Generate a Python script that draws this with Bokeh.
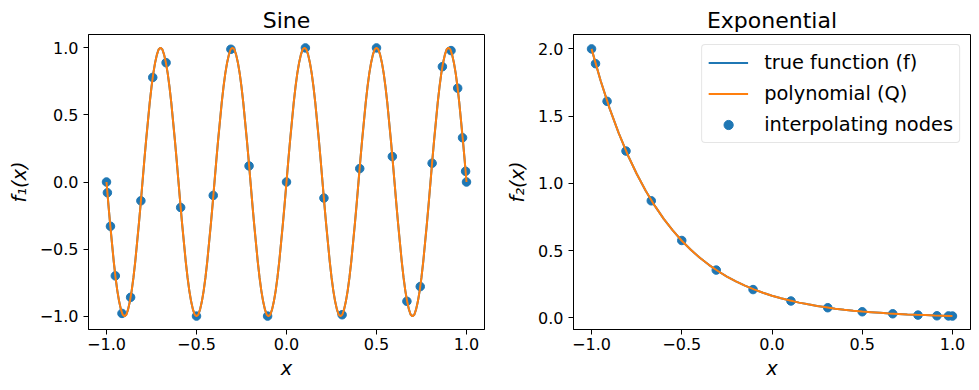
import numpy as np
from bokeh.plotting import figure
from bokeh.layouts import row
from bokeh.models import FixedTicker, Legend, LegendItem, Range1d
from bokeh.embed import file_html
from bokeh.resources import INLINE

# ---------------- data ----------------
# Sine panel: curve sampled every 0.01 on [-1, 1]
sine_x = np.linspace(-1.0, 1.0, 201)
sine_true = [
    0, -0.16, -0.31, -0.45, -0.59, -0.71, -0.81, -0.89, -0.95, -0.99, -1.0, -0.99, -0.95, -0.89, -0.81, -0.71, -0.59, -0.45, -0.31, -0.16,
    0, 0.16, 0.31, 0.45, 0.59, 0.71, 0.81, 0.89, 0.95, 0.99, 1.0, 0.99, 0.95, 0.89, 0.81, 0.71, 0.59, 0.45, 0.31, 0.16,
    0, -0.16, -0.31, -0.45, -0.59, -0.71, -0.81, -0.89, -0.95, -0.99, -1.0, -0.99, -0.95, -0.89, -0.81, -0.71, -0.59, -0.45, -0.31, -0.16,
    0, 0.16, 0.31, 0.45, 0.59, 0.71, 0.81, 0.89, 0.95, 0.99, 1.0, 0.99, 0.95, 0.89, 0.81, 0.71, 0.59, 0.45, 0.31, 0.16,
    0, -0.16, -0.31, -0.45, -0.59, -0.71, -0.81, -0.89, -0.95, -0.99, -1.0, -0.99, -0.95, -0.89, -0.81, -0.71, -0.59, -0.45, -0.31, -0.16,
    0, 0.16, 0.31, 0.45, 0.59, 0.71, 0.81, 0.89, 0.95, 0.99, 1.0, 0.99, 0.95, 0.89, 0.81, 0.71, 0.59, 0.45, 0.31, 0.16,
    0, -0.16, -0.31, -0.45, -0.59, -0.71, -0.81, -0.89, -0.95, -0.99, -1.0, -0.99, -0.95, -0.89, -0.81, -0.71, -0.59, -0.45, -0.31, -0.16,
    0, 0.16, 0.31, 0.45, 0.59, 0.71, 0.81, 0.89, 0.95, 0.99, 1.0, 0.99, 0.95, 0.89, 0.81, 0.71, 0.59, 0.45, 0.31, 0.16,
    0, -0.16, -0.31, -0.45, -0.59, -0.71, -0.81, -0.89, -0.95, -0.99, -1.0, -0.99, -0.95, -0.89, -0.81, -0.71, -0.59, -0.45, -0.31, -0.16,
    0, 0.16, 0.31, 0.45, 0.59, 0.71, 0.81, 0.89, 0.95, 0.99, 1.0, 0.99, 0.95, 0.89, 0.81, 0.71, 0.59, 0.45, 0.31, 0.16,
    0,
]
# the interpolating polynomial coincides with the true function at this scale
sine_poly = list(sine_true)

sine_nodes_x = [-1.0, -0.995, -0.978, -0.951, -0.914, -0.866, -0.809, -0.743, -0.669, -0.588, -0.5,
                -0.407, -0.309, -0.208, -0.105, 0.0, 0.105, 0.208, 0.309, 0.407, 0.5,
                0.588, 0.669, 0.743, 0.809, 0.866, 0.914, 0.951, 0.978, 0.995, 1.0]
sine_nodes_y = [0.0, -0.08, -0.33, -0.70, -0.98, -0.86, -0.14, 0.78, 0.89, -0.19, -1.0,
                -0.10, 0.99, 0.12, -1.0, 0.0, 1.0, -0.12, -0.99, 0.10, 1.0,
                0.19, -0.89, -0.78, 0.14, 0.86, 0.98, 0.70, 0.33, 0.08, 0.0]

# Exponential panel: curve sampled every 0.05 on [-1, 1]
exp_x = np.linspace(-1.0, 1.0, 41)
exp_true = [2.000, 1.765, 1.558, 1.375, 1.213, 1.071, 0.945, 0.834, 0.736, 0.650,
            0.573, 0.506, 0.446, 0.394, 0.348, 0.307, 0.271, 0.239, 0.211, 0.186,
            0.164, 0.145, 0.128, 0.113, 0.100, 0.088, 0.078, 0.068, 0.060, 0.053,
            0.047, 0.042, 0.037, 0.032, 0.029, 0.025, 0.022, 0.020, 0.017, 0.015,
            0.013]
exp_poly = list(exp_true)

exp_nodes_x = [-1.0, -0.978, -0.914, -0.809, -0.669, -0.5, -0.309, -0.105,
               0.105, 0.309, 0.5, 0.669, 0.809, 0.914, 0.978, 1.0]
exp_nodes_y = [2.0, 1.89, 1.61, 1.24, 0.87, 0.575, 0.355, 0.21,
               0.125, 0.075, 0.045, 0.03, 0.02, 0.015, 0.014, 0.013]

x_ticks = [-1.0, -0.5, 0.0, 0.5, 1.0]
sine_y_ticks = [-1.0, -0.5, 0.0, 0.5, 1.0]
exp_y_ticks = [0.0, 0.5, 1.0, 1.5, 2.0]

BLUE = "#1f77b4"
ORANGE = "#ff7f0e"
FONT = "DejaVu Sans"


def fmt(v):
    s = f"{v:.1f}"
    return s.replace("-", "\u2212")


def make_fig(title, ylabel, yr, yticks, width, bl, br):
    p = figure(width=width, height=382, output_backend="svg", toolbar_location=None,
               x_range=Range1d(-1.1, 1.1), y_range=Range1d(*yr),
               min_border_left=bl, min_border_right=br, min_border_top=34, min_border_bottom=10)
    p.title.text = title
    p.title.align = "center"
    p.title.text_font = FONT
    p.title.text_font_size = "22px"
    p.title.text_font_style = "normal"
    p.title.text_color = "black"
    p.title.standoff = 3
    p.xgrid.visible = False
    p.ygrid.visible = False
    p.outline_line_color = "black"
    p.outline_line_width = 1
    p.outline_line_alpha = 1
    p.xaxis.ticker = FixedTicker(ticks=x_ticks)
    p.yaxis.ticker = FixedTicker(ticks=yticks)
    p.xaxis.major_label_overrides = {t: fmt(t) for t in x_ticks}
    p.yaxis.major_label_overrides = {t: fmt(t) for t in yticks}
    p.xaxis.axis_label = "x"
    p.yaxis.axis_label = ylabel
    for ax in (p.xaxis, p.yaxis):
        ax.axis_label_text_font = FONT
        ax.axis_label_text_font_size = "19.4px"
        ax.axis_label_text_font_style = "italic"
        ax.axis_label_text_color = "black"
        ax.major_label_text_font = FONT
        ax.major_label_text_font_size = "16px"
        ax.major_label_text_color = "black"
        ax.minor_tick_line_color = None
        ax.major_tick_in = 0
        ax.major_tick_out = 5
        ax.major_tick_line_color = "black"
        ax.axis_line_color = "black"
    p.xaxis.major_label_standoff = 3
    p.xaxis.axis_label_standoff = 4
    p.yaxis.major_label_standoff = 5
    p.yaxis.axis_label_standoff = 6
    return p


# ---------------- Sine ----------------
p1 = make_fig("Sine", "f\u2081(x)", (-1.1, 1.1), sine_y_ticks, 490, 88, 6)
p1.scatter(sine_nodes_x, sine_nodes_y, size=8.5, color=BLUE)
p1.line(sine_x, sine_true, line_color=BLUE, line_width=2)
p1.line(sine_x, sine_poly, line_color=ORANGE, line_width=2)

# ---------------- Exponential ----------------
p2 = make_fig("Exponential", "f\u2082(x)", (-0.087, 2.107), exp_y_ticks, 481, 83, 1)
r_nodes = p2.scatter(exp_nodes_x, exp_nodes_y, size=8.5, color=BLUE)
r_true = p2.line(exp_x, exp_true, line_color=BLUE, line_width=2)
r_poly = p2.line(exp_x, exp_poly, line_color=ORANGE, line_width=2)

legend = Legend(items=[
    LegendItem(label="true function (f)", renderers=[r_true]),
    LegendItem(label="polynomial (Q)", renderers=[r_poly]),
    LegendItem(label="interpolating nodes", renderers=[r_nodes]),
], location="top_right")
legend.label_text_font = FONT
legend.label_text_font_size = "19.4px"
legend.label_text_color = "black"
legend.glyph_width = 40
legend.glyph_height = 23
legend.label_height = 23
legend.label_standoff = 16
legend.spacing = 8
legend.padding = 6
legend.margin = 10
legend.border_line_color = "#cccccc"
legend.border_line_width = 1
legend.background_fill_alpha = 0.8
if "border_radius" in Legend.properties():
    legend.border_radius = 4
p2.add_layout(legend)

layout = row(p1, p2)
open("out.html", "w").write(file_html(layout, INLINE))
